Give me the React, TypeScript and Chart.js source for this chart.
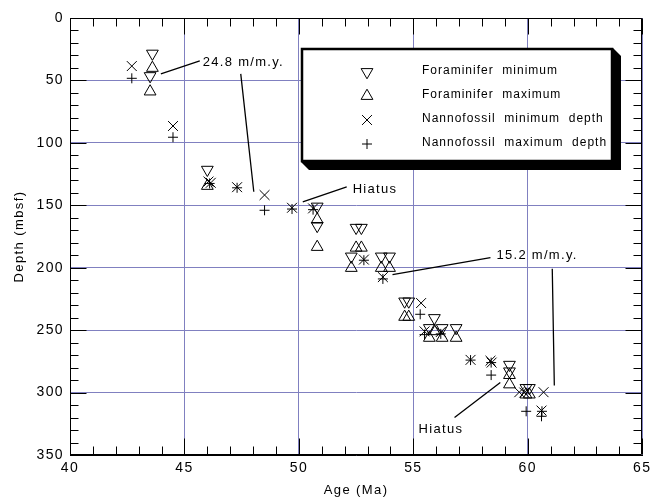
import React, { useEffect, useRef } from 'react';
import { Chart, registerables } from 'chart.js';

Chart.register(...registerables);

// ---- Data ----
const foramMinAge = [43.6, 43.5, 46.0, 50.8, 50.8, 52.5, 52.73, 52.29, 53.6, 53.96, 54.62, 54.8, 55.92, 55.7, 56.26, 56.87, 59.2, 59.2, 59.92, 60.07];
const foramMinDepth = [28.5, 46.5, 121.5, 151, 166.5, 168, 168, 191, 191, 191, 227, 227, 240.3, 248.3, 248.3, 248.3, 277.7, 283, 296.3, 296.3];

const foramMaxAge = [43.6, 43.5, 46.0, 50.8, 50.8, 52.5, 52.73, 52.29, 53.6, 53.96, 54.62, 54.8, 55.92, 55.7, 56.26, 56.87, 59.2, 59.2, 59.92, 60.07];
const foramMaxDepth = [40, 58.9, 134.5, 161.5, 183.4, 184, 184, 200.2, 200.2, 200.2, 239.4, 239.4, 250.9, 256.2, 256.2, 256.2, 286, 293.5, 301.6, 301.6];

const nannoMinAge = [42.7, 44.5, 46.05, 46.15, 47.3, 48.5, 49.7, 50.62, 52.84, 53.67, 55.34, 55.49, 56.2, 57.5, 58.37, 58.42, 59.63, 59.85, 60.69, 60.6];
const nannoMinDepth = [38.5, 86.5, 131, 132, 135.5, 141.8, 152, 152.5, 193.5, 207.5, 228.3, 251, 251.5, 273.8, 274.5, 276, 299.7, 300, 299.7, 314.4];

const nannoMaxAge = [42.7, 44.5, 46.1, 47.3, 48.5, 49.7, 50.62, 52.84, 53.67, 55.3, 55.49, 56.2, 57.5, 58.4, 58.4, 59.93, 60.62, 60.6];
const nannoMaxDepth = [48.3, 95.5, 132.5, 136, 154, 153, 153.5, 194, 209, 237.3, 253.6, 253, 274, 276, 286, 315, 315, 319];

const seriesLabels = [
  'Foraminifer  minimum',
  'Foraminifer  maximum',
  'Nannofossil  minimum  depth',
  'Nannofossil  maximum  depth',
];

const xTitle = 'Age (Ma)';
const yTitle = 'Depth (mbsf)';
const rateLabels = ['24.8 m/m.y.', '15.2 m/m.y.'];
const hiatusLabel = 'Hiatus';

const FONT = 'Arial, "Liberation Sans", Helvetica, sans-serif';
const GRID = '#8080c0';

const toXY = (xs: number[], ys: number[]) => xs.map((x, i) => ({ x, y: ys[i] }));

function drawMarker(ctx: CanvasRenderingContext2D, style: string, rotation: number, r: number, x: number, y: number) {
  ctx.beginPath();
  if (style === 'triangle') {
    let rad = (rotation * Math.PI) / 180;
    for (let k = 0; k < 3; k++) {
      const px = x + Math.sin(rad) * r;
      const py = y - Math.cos(rad) * r;
      if (k === 0) ctx.moveTo(px, py);
      else ctx.lineTo(px, py);
      rad += (2 * Math.PI) / 3;
    }
    ctx.closePath();
  } else if (style === 'crossRot') {
    const o = Math.cos(Math.PI / 4) * r;
    ctx.moveTo(x - o, y - o);
    ctx.lineTo(x + o, y + o);
    ctx.moveTo(x - o, y + o);
    ctx.lineTo(x + o, y - o);
  } else {
    ctx.moveTo(x - r, y);
    ctx.lineTo(x + r, y);
    ctx.moveTo(x, y - r);
    ctx.lineTo(x, y + r);
  }
  ctx.stroke();
}

const spacingPlugin = {
  id: 'spacing',
  beforeDraw(chart: any) {
    chart.ctx.letterSpacing = '1.4px';
  },
};

const framePlugin = {
  id: 'frameTicks',
  afterDatasetsDraw(chart: any) {
    const { ctx, chartArea: a, scales } = chart;
    const xs = scales.x;
    const ys = scales.y;
    ctx.save();
    ctx.strokeStyle = '#000';
    ctx.lineWidth = 1;
    const L = Math.round(a.left) + 0.5;
    const R = Math.round(a.right) - 0.5;
    const T = Math.round(a.top) + 0.5;
    const B = Math.round(a.bottom) - 0.5;
    ctx.beginPath();
    ctx.rect(L, T, R - L, B - T);
    ctx.stroke();
    ctx.beginPath();
    for (let v = Math.ceil(xs.min); v <= xs.max; v += 1) {
      const px = Math.round(xs.getPixelForValue(v)) + 0.5;
      const len = v % 5 === 0 ? 16 : 8;
      ctx.moveTo(px, B);
      ctx.lineTo(px, B - len);
      ctx.moveTo(px, T);
      ctx.lineTo(px, T + len);
    }
    for (let v = Math.ceil(ys.min); v <= ys.max; v += 10) {
      const py = Math.round(ys.getPixelForValue(v)) + 0.5;
      const len = v % 50 === 0 ? 16 : 8;
      ctx.moveTo(L, py);
      ctx.lineTo(L + len, py);
      ctx.moveTo(R, py);
      ctx.lineTo(R - len, py);
    }
    ctx.stroke();
    ctx.restore();
  },
};

const annotationPlugin = {
  id: 'annotations',
  afterDatasetsDraw(chart: any) {
    const { ctx, scales } = chart;
    const X = (v: number) => scales.x.getPixelForValue(v);
    const Y = (v: number) => scales.y.getPixelForValue(v);
    ctx.save();
    ctx.strokeStyle = '#000';
    ctx.lineWidth = 1.3;
    const lines: number[][] = [
      [43.97, 44.8, 45.67, 34.4],
      [47.46, 44.8, 48.03, 139.2],
      [50.17, 147.2, 52.09, 135.2],
      [54.09, 205.6, 58.37, 192],
      [61.07, 200.8, 61.16, 294.4],
      [56.8, 320, 58.8, 292],
    ];
    ctx.beginPath();
    for (const [x1, y1, x2, y2] of lines) {
      ctx.moveTo(X(x1), Y(y1));
      ctx.lineTo(X(x2), Y(y2));
    }
    ctx.stroke();
    ctx.fillStyle = '#000';
    ctx.font = `13px ${FONT}`;
    ctx.letterSpacing = '1.3px';
    ctx.textBaseline = 'middle';
    ctx.textAlign = 'left';
    ctx.fillText(rateLabels[0], X(45.8), Y(35.2));
    ctx.fillText(rateLabels[1], X(58.63), Y(190.4));
    ctx.fillText(hiatusLabel, X(52.35), Y(137.6));
    ctx.fillText(hiatusLabel, X(55.23), Y(329.6));
    ctx.restore();
  },
};

const legendPlugin = {
  id: 'boxLegend',
  afterDatasetsDraw(chart: any) {
    const { ctx, scales } = chart;
    const X = (v: number) => scales.x.getPixelForValue(v);
    const Y = (v: number) => scales.y.getPixelForValue(v);
    const left = Math.round(X(50.08));
    const right = Math.round(X(63.73));
    const top = Math.round(Y(24));
    const bottom = Math.round(Y(115));
    const w = right - left;
    const h = bottom - top;
    const off = 8;
    ctx.save();
    // shadow
    ctx.fillStyle = '#000';
    ctx.beginPath();
    ctx.moveTo(left, bottom);
    ctx.lineTo(left + off, bottom + off);
    ctx.lineTo(right + off, bottom + off);
    ctx.lineTo(right + off, top + off);
    ctx.lineTo(right, top);
    ctx.closePath();
    ctx.fill();
    ctx.fillStyle = '#fff';
    ctx.fillRect(left, top, w, h);
    ctx.strokeStyle = '#000';
    ctx.lineWidth = 2.5;
    ctx.strokeRect(left + 1, top + 1, w - 2, h - 2);

    const ds = chart.data.datasets;
    ctx.font = `12px ${FONT}`;
    ctx.letterSpacing = '1px';
    ctx.textBaseline = 'middle';
    ctx.textAlign = 'left';
    ctx.fillStyle = '#000';
    ctx.lineWidth = 1;
    const mx = left + 66;
    const tx = left + 121;
    for (let i = 0; i < ds.length; i++) {
      const ry = top + 24 + i * 24;
      drawMarker(ctx, ds[i].pointStyle, ds[i].rotation || 0, ds[i].pointRadius, mx, ry);
      ctx.fillText(ds[i].label, tx, ry - 1);
    }
    ctx.restore();
  },
};

export default function App() {
  const ref = useRef<HTMLCanvasElement | null>(null);

  useEffect(() => {
    if (!ref.current) return;
    Chart.defaults.font.family = FONT;
    Chart.defaults.color = '#000';
    const common = {
      borderColor: '#000',
      backgroundColor: 'rgba(0,0,0,0)',
      borderWidth: 1,
      pointBorderWidth: 1,
      showLine: false,
    };
    const chart = new Chart(ref.current, {
      type: 'scatter',
      data: {
        datasets: [
          { ...common, label: seriesLabels[0], data: toXY(foramMinAge, foramMinDepth), pointStyle: 'triangle', rotation: 180, pointRadius: 6.8 },
          { ...common, label: seriesLabels[1], data: toXY(foramMaxAge, foramMaxDepth), pointStyle: 'triangle', rotation: 0, pointRadius: 6.8 },
          { ...common, label: seriesLabels[2], data: toXY(nannoMinAge, nannoMinDepth), pointStyle: 'crossRot', pointRadius: 7 },
          { ...common, label: seriesLabels[3], data: toXY(nannoMaxAge, nannoMaxDepth), pointStyle: 'cross', pointRadius: 5 },
        ] as any,
      },
      options: {
        responsive: false,
        animation: false,
        devicePixelRatio: 1,
        layout: { padding: { top: 18, right: 12, left: 0, bottom: 0 } },
        plugins: { legend: { display: false }, tooltip: { enabled: false } },
        scales: {
          x: {
            type: 'linear',
            min: 40,
            max: 65,
            afterFit: (s: any) => { s.height = 43; },
            ticks: { stepSize: 5, font: { size: 14 }, color: '#000', padding: 5, maxRotation: 0, autoSkip: false },
            grid: { color: GRID, lineWidth: 1, drawTicks: false },
            border: { color: '#000', width: 1 },
            title: { display: true, text: xTitle, font: { size: 13 }, color: '#000', padding: { top: 0, bottom: 0 } },
          },
          y: {
            type: 'linear',
            reverse: true,
            min: 0,
            max: 350,
            afterFit: (s: any) => { s.width = 70; },
            ticks: { stepSize: 50, font: { size: 14 }, color: '#000', padding: 6, autoSkip: false },
            grid: { color: GRID, lineWidth: 1, drawTicks: false },
            border: { color: '#000', width: 1 },
            title: { display: true, text: yTitle, font: { size: 13 }, color: '#000', padding: { top: 12, bottom: 0 } },
          },
        },
      } as any,
      plugins: [spacingPlugin, framePlugin, legendPlugin, annotationPlugin],
    });
    return () => chart.destroy();
  }, []);

  return (
    <div style={{ position: 'absolute', left: 0, top: 0, width: 655, height: 498, background: '#fff' }}>
      <canvas ref={ref} width={655} height={498} style={{ display: 'block' }} />
    </div>
  );
}
